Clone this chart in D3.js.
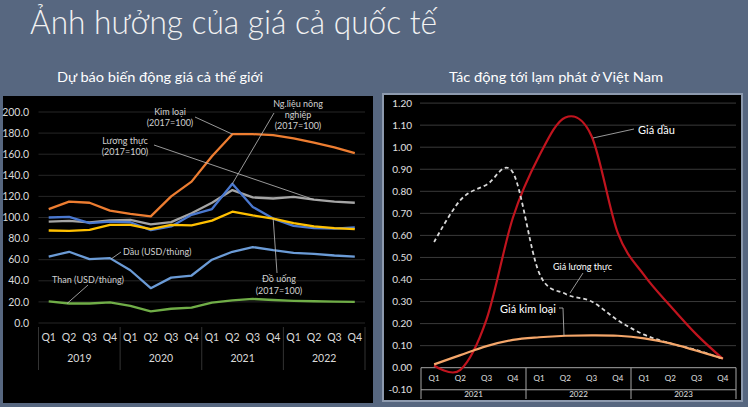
<!DOCTYPE html>
<html><head><meta charset="utf-8">
<script src="https://cdn.jsdelivr.net/npm/d3@7/dist/d3.min.js"></script>
<style>
html,body{margin:0;padding:0;background:#576780;}
svg{display:block;font-family:Lato,"Open Sans","DejaVu Sans",sans-serif;}
</style></head>
<body>
<svg id="c" width="748" height="407"></svg>
<script>
// ---------- DATA ----------
const quarters = ["Q1","Q2","Q3","Q4"];
const leftYears = ["2019","2020","2021","2022"];
const rightYears = ["2021","2022","2023"];
const leftTicks = [0,20,40,60,80,100,120,140,160,180,200];
const rightTicks = [-0.1,0,0.1,0.2,0.3,0.4,0.5,0.6,0.7,0.8,0.9,1.0,1.1,1.2];

const kimLoai   = [108,115,114,106.5,103.5,101,120,134,158,179,179,178,175,171,166.5,161];
const luongThuc = [96,96.8,95.3,97.2,97.8,93.5,95.6,104,114,126,119,118,119.5,117,115,114];
const ngLieu    = [100,100.6,94.6,96,95.5,88,91.5,102.5,108,132,110,99,92,90,89.5,90.5];
const doUong    = [87.7,87.4,88.3,93,93,89,93,92.5,97,105.5,102,99,94.6,91.5,90,89];
const dau       = [63,67.5,60.5,61.5,50,33,43,45,60,67.5,72,69,66.5,65.5,64,63];
const than      = [20.5,18.5,18.5,19.5,16.3,11,13.5,14.5,19.4,21.5,22.8,21.8,21,20.6,20.3,20];

const giaDau      = [0.01,-0.01,0.22,0.68,0.96,1.135,1.05,0.61,0.42,0.28,0.15,0.04];
const giaLuongThuc= [0.57,0.76,0.83,0.885,0.43,0.335,0.30,0.215,0.15,0.11,0.08,0.04];
const giaKimLoai  = [0.015,0.057,0.098,0.126,0.138,0.145,0.147,0.145,0.133,0.11,0.077,0.042];

const svg = d3.select("#c");

// ---------- Slide titles ----------
svg.append("text").attr("x",30).attr("y",34).attr("fill","#f2f2f2")
  .attr("font-size",34).attr("font-weight",300)
  .attr("textLength",407).attr("lengthAdjust","spacingAndGlyphs")
  .text("Ảnh hưởng của giá cả quốc tế");
svg.append("text").attr("x",57).attr("y",82).attr("fill","#ffffff")
  .attr("font-size",13).attr("textLength",206).attr("lengthAdjust","spacingAndGlyphs")
  .text("Dự báo biến động giá cả thế giới");
svg.append("text").attr("x",449).attr("y",82).attr("fill","#ffffff")
  .attr("font-size",13).attr("textLength",214).attr("lengthAdjust","spacingAndGlyphs")
  .text("Tác động tới lạm phát ở Việt Nam");

// ---------- LEFT CHART ----------
svg.append("rect").attr("x",3).attr("y",96).attr("width",370).attr("height",307).attr("fill","#000");
const lx = d3.scaleBand().domain(d3.range(16)).range([38.5,365]);
const lxc = i => lx(i) + lx.bandwidth()/2;
const ly = d3.scaleLinear().domain([0,200]).range([323,112]);

const gL = svg.append("g");
gL.selectAll("line.grid").data(leftTicks).join("line")
  .attr("x1",38.5).attr("x2",365).attr("y1",d=>ly(d)).attr("y2",d=>ly(d))
  .attr("stroke","#262626").attr("stroke-width",1);
gL.selectAll("text.yl").data(leftTicks).join("text")
  .attr("x",29).attr("y",d=>ly(d)).attr("dy","0.35em").attr("text-anchor","end")
  .attr("fill","#d9d9d9").attr("font-size",10.5).text(d=>d.toFixed(1));
gL.selectAll("text.q").data(d3.range(16)).join("text")
  .attr("x",d=>lxc(d)).attr("y",337).attr("dy","0.35em").attr("text-anchor","middle")
  .attr("fill","#d9d9d9").attr("font-size",10.5).text(d=>quarters[d%4]);
gL.selectAll("text.yr").data(leftYears).join("text")
  .attr("x",(d,i)=>(lx(i*4)+lx(i*4+3)+lx.bandwidth())/2).attr("y",358).attr("dy","0.35em")
  .attr("text-anchor","middle").attr("fill","#d9d9d9").attr("font-size",10.5).text(d=>d);
gL.selectAll("line.sep").data(d3.range(5)).join("line")
  .attr("x1",d=>d<4?lx(d*4):lx(15)+lx.bandwidth()).attr("x2",d=>d<4?lx(d*4):lx(15)+lx.bandwidth())
  .attr("y1",327).attr("y2",370).attr("stroke","#333").attr("stroke-width",1);

const lineL = d3.line().x((d,i)=>lxc(i)).y(d=>ly(d));
const leftSeries = [
  {v:kimLoai,c:"#ed7d31"},{v:luongThuc,c:"#a5a5a5"},{v:ngLieu,c:"#4a78cf"},
  {v:doUong,c:"#ffc000"},{v:dau,c:"#6b9bd6"},{v:than,c:"#70ad47"}];
gL.selectAll("path.s").data(leftSeries).join("path")
  .attr("d",d=>lineL(d.v)).attr("fill","none").attr("stroke",d=>d.c)
  .attr("stroke-width",2.3).attr("stroke-linejoin","round");

// annotations left
const annL = svg.append("g").attr("fill","#d0d0d0").attr("font-size",9).attr("text-anchor","middle");
function lbl(g,lines,x,y,lh){lines.forEach((t,k)=>g.append("text").attr("x",x).attr("y",y+k*lh).attr("dy","0.35em").text(t));}
function leader(pts){svg.append("path").attr("d",d3.line()(pts)).attr("fill","none").attr("stroke","#bfbfbf").attr("stroke-width",0.8);}
lbl(annL,["Kim loại","(2017=100)"],170,112,11);
leader([[195,117],[lxc(9),ly(kimLoai[9])]]);
lbl(annL,["Ng.liệu nông","nghiệp","(2017=100)"],298,104,11);
leader([[274,113],[lxc(9),ly(ngLieu[9])]]);
lbl(annL,["Lương thực","(2017=100)"],125,141,11);
leader([[154,145],[lxc(13),ly(luongThuc[13])]]);
annL.append("text").attr("x",123).attr("y",252).attr("dy","0.35em").attr("text-anchor","start").text("Dầu (USD/thùng)");
leader([[121,252],[lxc(3)+1,ly(dau[3])+1]]);
lbl(annL,["Than (USD/thùng)"],88,280,11);
leader([[88,285],[lxc(1)-2,ly(than[1])]]);
lbl(annL,["Đồ uống","(2017=100)"],279,279,12);
leader([[277,273],[lxc(11),ly(doUong[11])]]);

// ---------- RIGHT CHART ----------
svg.append("rect").attr("x",383).attr("y",94).attr("width",359).attr("height",307)
  .attr("fill","#000").attr("stroke","#8d9aae").attr("stroke-width",2);
const rx = d3.scaleBand().domain(d3.range(12)).range([421,736]);
const rxc = i => rx(i) + rx.bandwidth()/2;
const ry = d3.scaleLinear().domain([0,1.2]).range([367.7,103.1]);
const gR = svg.append("g");
gR.selectAll("line.grid").data(rightTicks.filter(d=>d>0.05)).join("line")
  .attr("x1",420).attr("x2",736).attr("y1",d=>ry(d)).attr("y2",d=>ry(d))
  .attr("stroke","#3a3a3a").attr("stroke-width",1);
gR.selectAll("text.yl").data(rightTicks).join("text")
  .attr("x",412).attr("y",d=>ry(d)).attr("dy","0.35em").attr("text-anchor","end")
  .attr("fill","#e0e0e0").attr("font-size",10).text(d=>d.toFixed(2));
// category axis box
gR.append("line").attr("x1",421).attr("x2",736).attr("y1",ry(0)).attr("y2",ry(0)).attr("stroke","#a6a6a6");
gR.append("line").attr("x1",421).attr("x2",736).attr("y1",ry(-0.1)).attr("y2",ry(-0.1)).attr("stroke","#a6a6a6");
gR.selectAll("line.sep").data(d3.range(4)).join("line")
  .attr("x1",d=>d<3?rx(d*4):736).attr("x2",d=>d<3?rx(d*4):736)
  .attr("y1",ry(0)).attr("y2",399).attr("stroke","#a6a6a6");
gR.selectAll("text.q").data(d3.range(12)).join("text")
  .attr("x",d=>rxc(d)).attr("y",378).attr("dy","0.35em").attr("text-anchor","middle")
  .attr("fill","#e0e0e0").attr("font-size",8).text(d=>quarters[d%4]);
gR.selectAll("text.yr").data(rightYears).join("text")
  .attr("x",(d,i)=>(rx(i*4)+rx(i*4+3)+rx.bandwidth())/2).attr("y",394.5).attr("dy","0.35em")
  .attr("text-anchor","middle").attr("fill","#e0e0e0").attr("font-size",8).text(d=>d);

const lineR = d3.line().x((d,i)=>rxc(i)).y(d=>ry(d)).curve(d3.curveCardinal.tension(0));
gR.append("path").attr("d",lineR(giaDau)).attr("fill","none").attr("stroke","#c0141e").attr("stroke-width",2.2);
gR.append("path").attr("d",lineR(giaLuongThuc)).attr("fill","none").attr("stroke","#d9d9d9")
  .attr("stroke-width",1.8).attr("stroke-dasharray","4,3");
gR.append("path").attr("d",lineR(giaKimLoai)).attr("fill","none").attr("stroke","#f4a66a").attr("stroke-width",2.2);

const annR = svg.append("g").attr("fill","#ffffff");
annR.append("text").attr("x",638).attr("y",130).attr("dy","0.35em").attr("font-size",11).text("Giá dầu");
leader([[634,129],[593,138]]);
annR.append("text").attr("x",553).attr("y",267).attr("dy","0.35em").attr("font-size",9).text("Giá lương thực");
leader([[583,273],[570,293]]);
annR.append("text").attr("x",500).attr("y",309).attr("dy","0.35em").attr("font-size",11).text("Giá kim loại");
leader([[559,308],[563,308],[564,ry(0.145)]]);
</script>
</body></html>
